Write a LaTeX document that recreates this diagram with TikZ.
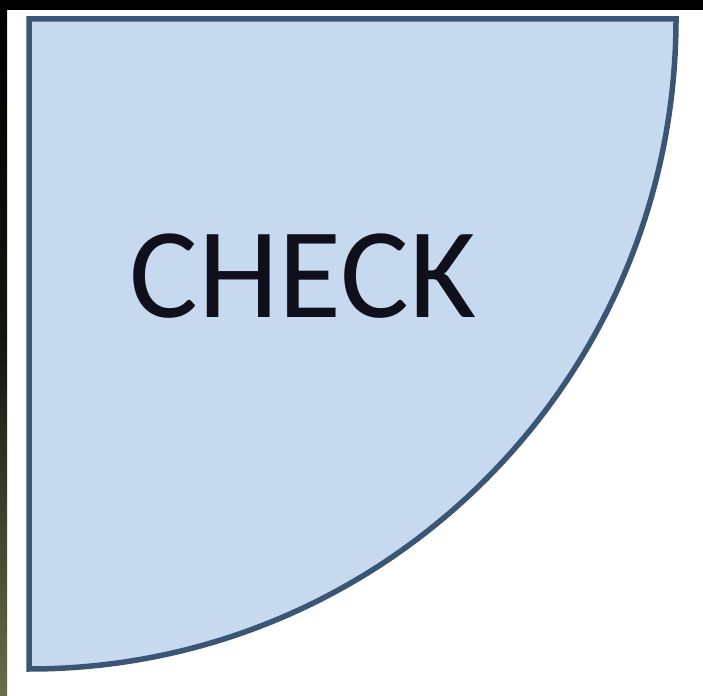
\documentclass[tikz,border=0pt]{standalone}
\usepackage{fontspec}
\setmainfont{Carlito}
\usetikzlibrary{positioning}
\definecolor{quadFill}{RGB}{198,217,239}
\definecolor{quadEdge}{RGB}{59,86,117}
\definecolor{quadText}{RGB}{16,16,28}
\definecolor{stripOlive}{RGB}{107,110,72}
\begin{document}
\begin{tikzpicture}[x=1pt,y=1pt]
\useasboundingbox[fill=white] (0,0) rectangle (703,695);
% dark strips at the top and left
\fill[black] (0,685) rectangle (703,695);
\shade[top color=black,bottom color=stripOlive,middle color=black!80!stripOlive] (0,0) rectangle (7,695);
% quarter disc
\coordinate (corner) at (29,676);
\draw[fill=quadFill,draw=quadEdge,line width=5.5pt,line join=miter]
  (corner) -- (676,676) arc[start angle=0,end angle=-90,x radius=647,y radius=650] -- cycle;
\node[anchor=base,text=quadText,inner sep=0pt,font=\fontsize{129}{150}\selectfont] (check) at (303,377) {CHECK};
\end{tikzpicture}
\end{document}
